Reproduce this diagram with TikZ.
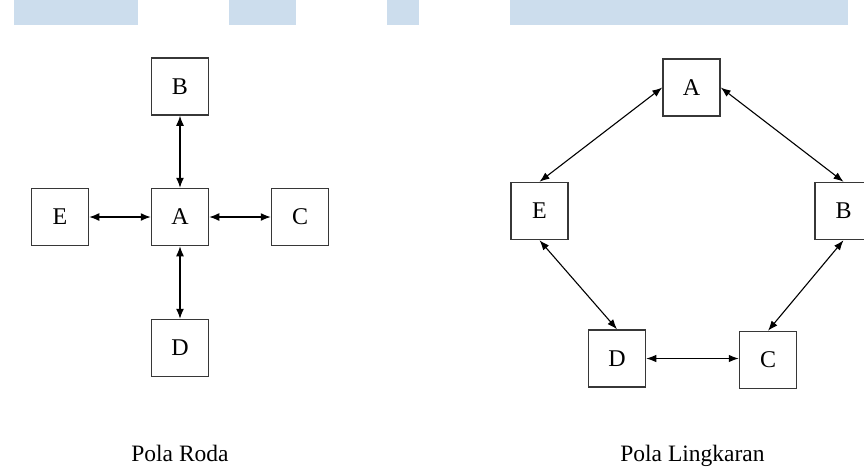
\documentclass[tikz,border=0pt]{standalone}
\usepackage{fontspec}
\setmainfont{Liberation Serif}
\usetikzlibrary{arrows.meta}
\definecolor{barblue}{RGB}{204,221,237}
\definecolor{boxline}{RGB}{55,55,55}
\tikzset{
  memberbox/.style={draw=boxline, line width=1.5pt, minimum width=57pt, minimum height=57pt, inner sep=0pt, font=\fontsize{24}{26}\selectfont},
  link/.style={line width=1.3pt, {Latex[length=10pt,width=8pt]}-{Latex[length=10pt,width=8pt]}},
  ringlink/.style={line width=1.1pt, {Latex[length=10pt,width=7.5pt]}-{Latex[length=10pt,width=7.5pt]}},
  caption/.style={font=\fontsize{23.5}{26}\selectfont, anchor=base}
}
\begin{document}
\begin{tikzpicture}[x=1pt,y=-1pt]
\useasboundingbox (0,0) rectangle (864,467);
% top bars
\fill[barblue] (14,0) rectangle (138,25);
\fill[barblue] (229,0) rectangle (296,25);
\fill[barblue] (387,0) rectangle (419,25);
\fill[barblue] (510,0) rectangle (848,25);
% Pola Roda
\node[memberbox] (rB) at (180,86.5) {B};
\node[memberbox] (rA) at (180,217) {A};
\node[memberbox] (rE) at (60,217) {E};
\node[memberbox] (rC) at (300,217) {C};
\node[memberbox] (rD) at (180,348) {D};
\draw[link] (rB.south) -- (rA.north);
\draw[link] (rE.east) -- (rA.west);
\draw[link] (rA.east) -- (rC.west);
\draw[link] (rA.south) -- (rD.north);
\node[caption] (capR) at (180,461) {Pola Roda};
% Pola Lingkaran
\node[memberbox] (lA) at (691.5,87.5) {A};
\node[memberbox] (lE) at (539.5,211) {E};
\node[memberbox] (lB) at (843.5,211) {B};
\node[memberbox] (lD) at (617,358.5) {D};
\node[memberbox] (lC) at (768,360) {C};
\draw[ringlink] (lA.west) -- (lE.north);
\draw[ringlink] (lA.east) -- (lB.north);
\draw[ringlink] (lB.south) -- (lC.north);
\draw[ringlink] (lE.south) -- (lD.north);
\draw[ringlink] (lD.east) -- (lC.west |- lD.east);
\node[caption] (capL) at (692.5,461) {Pola Lingkaran};
\end{tikzpicture}
\end{document}
